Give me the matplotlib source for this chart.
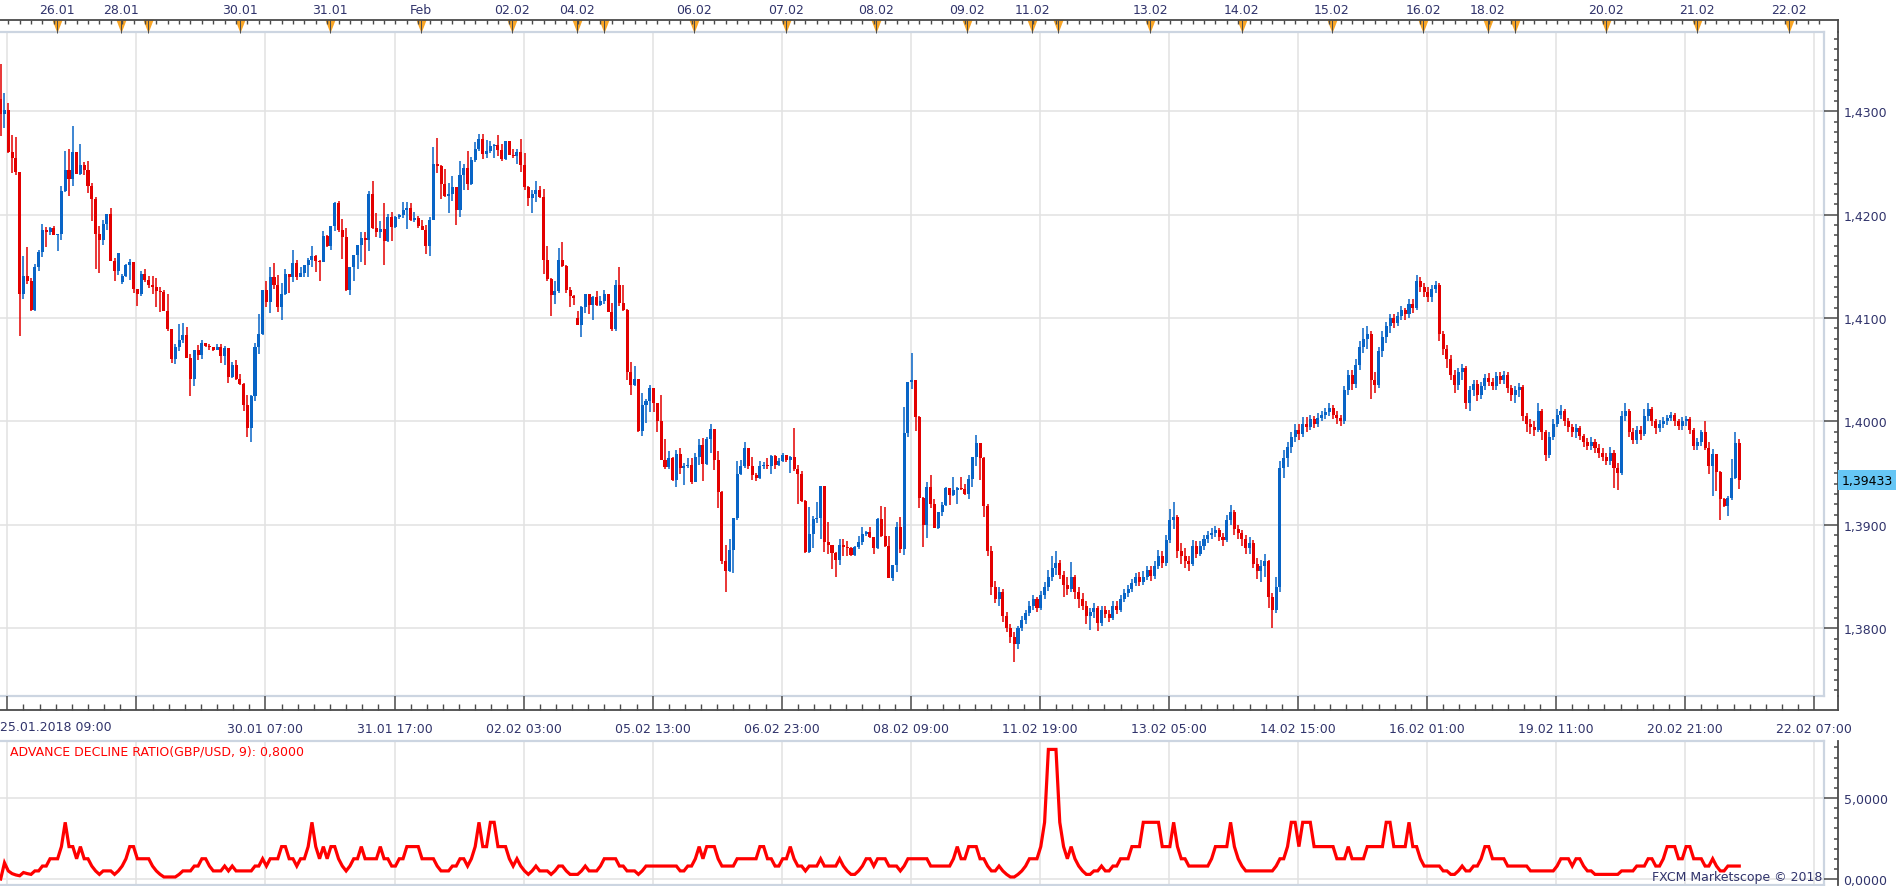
import numpy as np
import matplotlib
matplotlib.use("Agg")
import matplotlib.pyplot as plt
from matplotlib.ticker import FuncFormatter, FixedLocator, MultipleLocator
from matplotlib.transforms import blended_transform_factory

# GBP/USD hourly candles, prices stored as pips above BASE
BASE = 1.37
first_open = 612
gap_opens = {32: 435, 152: 400}
last_price = 1.39433

closes = [
    597, 601, 561, 555, 541, 423, 441, 436, 408, 449,
    464, 485, 483, 487, 480, 481, 523, 543, 535, 561,
    539, 548, 543, 528, 515, 481, 476, 491, 501, 455,
    446, 463, 441, 451, 454, 428, 423, 443, 437, 432,
    430, 426, 425, 407, 389, 360, 372, 379, 384, 361,
    341, 369, 364, 376, 373, 372, 369, 372, 363, 371,
    343, 355, 341, 336, 316, 294, 325, 372, 385, 427,
    416, 440, 432, 411, 423, 443, 440, 453, 440, 444,
    451, 456, 460, 455, 454, 479, 470, 489, 511, 485,
    478, 427, 449, 461, 471, 477, 476, 520, 487, 483,
    486, 475, 498, 488, 498, 500, 505, 506, 495, 497,
    489, 485, 470, 495, 549, 547, 530, 518, 520, 527,
    505, 538, 545, 530, 553, 564, 573, 559, 562, 566,
    567, 563, 554, 571, 558, 557, 561, 548, 527, 516,
    520, 524, 517, 456, 438, 422, 426, 456, 450, 427,
    421, 419, 393, 411, 423, 413, 420, 413, 417, 423,
    406, 389, 432, 415, 408, 348, 335, 341, 291, 316,
    320, 332, 318, 300, 263, 256, 265, 243, 269, 255,
    257, 258, 241, 266, 277, 259, 283, 293, 263, 232,
    165, 155, 176, 207, 249, 257, 274, 257, 248, 245,
    257, 258, 257, 267, 258, 262, 268, 263, 266, 254,
    249, 223, 174, 191, 206, 207, 238, 183, 181, 173,
    166, 181, 179, 178, 171, 179, 183, 191, 193, 188,
    178, 206, 189, 180, 149, 161, 198, 177, 289, 338,
    340, 304, 226, 200, 237, 220, 197, 212, 219, 236,
    229, 234, 236, 235, 230, 244, 266, 279, 265, 218,
    175, 140, 128, 135, 112, 100, 92, 85, 100, 108,
    115, 122, 128, 120, 132, 140, 150, 158, 163, 152,
    142, 138, 150, 135, 128, 122, 112, 116, 120, 105,
    118, 114, 110, 122, 118, 128, 134, 138, 144, 150,
    145, 150, 156, 151, 160, 170, 163, 185, 205, 208,
    175, 170, 165, 162, 180, 172, 180, 186, 190, 192,
    195, 188, 185, 205, 212, 196, 192, 186, 178, 182,
    162, 155, 160, 165, 130, 118, 140, 255, 265, 275,
    285, 292, 288, 298, 295, 302, 298, 303, 306, 309,
    313, 306, 303, 300, 330, 345, 336, 355, 372, 380,
    385, 340, 335, 368, 382, 392, 400, 395, 402, 408,
    404, 414, 410, 436, 430, 425, 420, 428, 432, 385,
    370, 360, 345, 335, 348, 352, 318, 330, 336, 326,
    334, 342, 338, 334, 344, 340, 345, 332, 326, 330,
    333, 305, 298, 295, 292, 310, 290, 268, 285, 298,
    306, 310, 300, 295, 290, 294, 286, 280, 276, 280,
    274, 270, 266, 262, 270, 255, 250, 305, 310, 290,
    282, 292, 288, 305, 312, 300, 294, 298, 300, 303,
    306, 300, 296, 300, 302, 292, 276, 280, 290, 274,
    257, 269, 251, 225, 218, 226, 245, 279, 243,
]
highs = [
    646, 618, 608, 577, 575, 541, 460, 469, 439, 452,
    466, 491, 488, 488, 489, 481, 528, 562, 564, 586,
    561, 568, 551, 552, 531, 517, 489, 495, 501, 506,
    458, 463, 443, 452, 457, 454, 428, 446, 447, 441,
    441, 439, 430, 427, 423, 389, 375, 394, 395, 391,
    365, 369, 374, 379, 376, 375, 372, 375, 375, 373,
    371, 358, 359, 346, 337, 326, 326, 376, 404, 427,
    436, 449, 453, 442, 434, 447, 443, 466, 456, 449,
    451, 458, 470, 461, 456, 484, 480, 489, 512, 513,
    496, 487, 449, 461, 471, 483, 483, 523, 533, 502,
    494, 511, 501, 503, 499, 501, 512, 512, 511, 503,
    499, 495, 490, 498, 565, 574, 548, 544, 531, 537,
    527, 552, 549, 562, 556, 570, 578, 578, 572, 571,
    568, 577, 568, 571, 571, 564, 564, 573, 560, 528,
    524, 533, 528, 525, 470, 439, 436, 468, 474, 451,
    430, 422, 407, 412, 423, 423, 421, 426, 421, 427,
    423, 415, 437, 449, 432, 409, 358, 354, 341, 328,
    322, 335, 332, 318, 326, 283, 271, 266, 272, 274,
    260, 265, 265, 270, 283, 284, 285, 298, 293, 271,
    233, 181, 186, 207, 262, 263, 280, 274, 266, 250,
    262, 261, 265, 268, 268, 265, 270, 268, 267, 294,
    258, 252, 224, 217, 209, 222, 238, 238, 203, 181,
    174, 186, 186, 184, 179, 180, 189, 198, 194, 198,
    188, 207, 218, 217, 189, 161, 203, 208, 314, 338,
    366, 340, 305, 227, 241, 248, 225, 212, 222, 237,
    236, 246, 237, 246, 240, 248, 266, 287, 279, 266,
    220, 180, 146, 140, 138, 116, 104, 96, 102, 112,
    118, 126, 132, 130, 136, 145, 156, 170, 175, 166,
    155, 150, 164, 152, 140, 134, 126, 120, 124, 122,
    122, 122, 118, 126, 126, 132, 138, 142, 148, 153,
    154, 155, 160, 160, 165, 176, 175, 190, 215, 222,
    210, 182, 178, 170, 185, 184, 184, 190, 194, 197,
    199, 197, 192, 210, 219, 214, 200, 195, 190, 188,
    185, 168, 166, 172, 166, 134, 150, 262, 272, 280,
    290, 298, 298, 304, 304, 306, 305, 308, 310, 313,
    318, 316, 310, 306, 334, 350, 350, 360, 378, 390,
    392, 388, 348, 372, 388, 396, 404, 404, 406, 412,
    410, 418, 418, 442, 440, 434, 430, 432, 436, 434,
    388, 374, 364, 350, 352, 356, 354, 334, 340, 340,
    338, 346, 347, 342, 348, 348, 349, 348, 335, 334,
    337, 335, 308, 302, 300, 318, 312, 292, 290, 302,
    312, 316, 312, 303, 298, 298, 296, 288, 284, 285,
    283, 278, 274, 270, 275, 272, 260, 310, 318, 312,
    294, 296, 296, 312, 318, 314, 302, 301, 304, 306,
    309, 308, 302, 304, 305, 304, 294, 284, 292, 300,
    280, 273, 269, 252, 226, 228, 264, 290, 283,
]
lows = [
    576, 584, 560, 540, 538, 383, 418, 433, 407, 407,
    446, 459, 469, 480, 480, 465, 476, 522, 518, 528,
    539, 538, 538, 521, 494, 447, 444, 471, 485, 455,
    436, 442, 433, 440, 437, 424, 412, 421, 435, 429,
    423, 411, 406, 407, 388, 357, 356, 368, 376, 361,
    325, 334, 359, 360, 372, 369, 368, 369, 357, 355,
    337, 342, 340, 335, 310, 285, 280, 320, 365, 384,
    411, 405, 428, 406, 398, 422, 424, 435, 437, 440,
    440, 440, 449, 445, 436, 454, 469, 466, 484, 483,
    457, 426, 422, 436, 447, 454, 451, 465, 486, 478,
    477, 451, 474, 475, 487, 496, 497, 486, 494, 493,
    487, 485, 462, 460, 495, 540, 515, 517, 502, 513,
    490, 498, 524, 524, 529, 551, 562, 554, 555, 560,
    555, 557, 552, 553, 558, 555, 549, 541, 524, 508,
    502, 512, 516, 443, 436, 402, 414, 424, 449, 424,
    411, 413, 393, 382, 405, 404, 398, 412, 412, 414,
    406, 388, 388, 412, 407, 340, 326, 334, 290, 286,
    299, 309, 309, 290, 263, 254, 254, 242, 237, 249,
    239, 255, 240, 241, 258, 242, 258, 270, 253, 216,
    162, 135, 154, 153, 205, 248, 255, 254, 243, 242,
    244, 254, 254, 249, 254, 257, 261, 261, 250, 252,
    220, 222, 173, 173, 178, 202, 186, 174, 172, 157,
    150, 161, 170, 170, 170, 170, 177, 181, 189, 187,
    172, 177, 188, 179, 149, 146, 154, 173, 171, 285,
    331, 291, 216, 179, 187, 216, 197, 196, 209, 218,
    219, 228, 220, 234, 229, 225, 237, 257, 243, 208,
    170, 132, 124, 122, 106, 96, 86, 67, 80, 97,
    104, 112, 118, 116, 118, 128, 136, 146, 152, 148,
    130, 132, 135, 128, 120, 118, 104, 98, 110, 97,
    102, 110, 106, 108, 114, 116, 125, 130, 135, 141,
    141, 142, 147, 146, 148, 157, 158, 160, 182, 196,
    168, 162, 158, 155, 160, 168, 170, 176, 182, 186,
    188, 184, 180, 183, 200, 190, 186, 180, 172, 172,
    158, 148, 145, 150, 120, 100, 115, 135, 245, 256,
    270, 280, 282, 285, 290, 292, 294, 295, 300, 302,
    305, 302, 298, 296, 298, 326, 330, 332, 350, 366,
    370, 322, 328, 332, 362, 376, 386, 390, 392, 398,
    398, 400, 405, 408, 425, 420, 416, 416, 424, 378,
    364, 352, 340, 328, 330, 340, 312, 310, 325, 320,
    322, 330, 334, 330, 330, 336, 336, 328, 320, 318,
    324, 300, 290, 288, 286, 290, 282, 262, 265, 282,
    295, 302, 296, 290, 285, 284, 282, 275, 272, 272,
    270, 265, 262, 258, 258, 236, 234, 248, 300, 285,
    278, 278, 282, 286, 300, 296, 288, 290, 294, 297,
    300, 296, 292, 292, 296, 288, 272, 272, 276, 272,
    249, 228, 233, 205, 217, 209, 224, 244, 235,
]

price_ticks = [1.38, 1.39, 1.40, 1.41, 1.42, 1.43]
time_labels = ["25.01.2018 09:00", "", "30.01 07:00", "31.01 17:00", "02.02 03:00",
               "05.02 13:00", "06.02 23:00", "08.02 09:00", "11.02 19:00",
               "13.02 05:00", "14.02 15:00", "16.02 01:00", "19.02 11:00",
               "20.02 21:00", "22.02 07:00"]
day_pos = [14.8, 31.7, 38.8, 63.0, 86.8, 110.7, 134.7, 151.8, 158.9, 182.6,
           206.8, 230.7, 254.6, 271.7, 278.5, 302.9, 326.9, 350.7, 374.8,
           391.7, 398.9, 422.9, 446.9, 471.0]
day_labels = ["26.01", "28.01", "", "30.01", "31.01", "Feb", "02.02", "04.02", "",
              "06.02", "07.02", "08.02", "09.02", "11.02", "", "13.02", "14.02",
              "15.02", "16.02", "18.02", "", "20.02", "21.02", "22.02"]

BLUE = "#0864c6"
RED = "#e30000"
NAVY = "#30336b"
GRID = "#e2e2e2"
FRAME = "#ccd5e1"
DARK = "#4a4a4a"

# ---- candles ----
n = len(closes)
x = np.arange(n)
op = [first_open] + closes[:-1]
for k, v in gap_opens.items():
    op[k] = v
op = np.array(op, float)
cl = np.array(closes, float)
hi = np.maximum(np.array(highs, float), np.maximum(op, cl))
lo = np.minimum(np.array(lows, float), np.minimum(op, cl))
up = cl > op
down = cl < op

# advance/decline ratio over 9 bars
adr = np.full(n, np.nan)
for t in range(n):
    a = up[max(0, t - 8):t + 1].sum()
    d = down[max(0, t - 8):t + 1].sum()
    if d:
        adr[t] = a / d

W, H = 1903, 887
PX = 3.796            # pixels per candle
XMIN = -0.18


def x_at(px):
    return XMIN + px / PX


fig = plt.figure(figsize=(W / 100, H / 100), dpi=100)
plt.rcParams["font.family"] = "DejaVu Sans"


def box(x0, y0, x1, y1):
    return fig.add_axes([x0 / W, 1 - y1 / H, (x1 - x0) / W, (y1 - y0) / H])


grid_x = [1.75 + 34 * k for k in range(len(time_labels))]
price = lambda p: BASE + p / 1e4

# main price panel
ax = box(0, 33, 1824, 697)
ax.set_xlim(XMIN, x_at(1824))
ax.set_ylim(1.37345, 1.43767)
ax.set_xticks(grid_x)
ax.set_yticks(price_ticks)
ax.grid(color=GRID, lw=1.1)
ax.set_axisbelow(True)
ax.tick_params(length=0, labelleft=False, labelbottom=False)
for s in ax.spines.values():
    s.set_color(FRAME)
    s.set_linewidth(1.6)
ax.spines["left"].set_visible(False)

colors = np.where(up, BLUE, RED)
ax.vlines(x, price(lo), price(hi), colors=colors, lw=1.1, zorder=2)
body_lo = price(np.minimum(op, cl))
body_h = np.maximum(np.abs(cl - op), 0.8) / 1e4
ax.bar(x, body_h, bottom=body_lo, width=0.8, color=colors, lw=0, zorder=3)

fmt4 = FuncFormatter(lambda v, _: f"{v:.4f}".replace(".", ","))

# right price scale
rax = box(1824, 33, 1838, 697)
rax.set_ylim(ax.get_ylim())
rax.set_xlim(0, 1)
rax.patch.set_alpha(0)
for s in ["left", "top", "bottom"]:
    rax.spines[s].set_visible(False)
rax.spines["right"].set_color(DARK)
rax.spines["right"].set_linewidth(1.3)
rax.set_xticks([])
rax.yaxis.tick_right()
rax.set_yticks(price_ticks)
rax.yaxis.set_minor_locator(MultipleLocator(0.001))
rax.yaxis.set_major_formatter(fmt4)
rax.tick_params(axis="y", which="major", direction="in", length=10, width=1.1,
                color=DARK, pad=4, labelsize=9, labelcolor=NAVY)
rax.tick_params(axis="y", which="minor", direction="in", length=3, width=1.1, color=DARK)
tr = blended_transform_factory(rax.transAxes, rax.transData)
rax.text(1.25, last_price, f"{last_price:.5f}".replace(".", ","), transform=tr,
         ha="left", va="center", fontsize=9, color="black", clip_on=False,
         bbox=dict(boxstyle="square,pad=0.25", fc="#66c6f5", ec="none"))

# top date scale with event markers
tax = box(0, 21, 1838, 33)
tax.set_xlim(XMIN, x_at(1838))
tax.set_ylim(0, 1)
tax.patch.set_alpha(0)
for s in ["left", "bottom"]:
    tax.spines[s].set_visible(False)
for s in ["top", "right"]:
    tax.spines[s].set_color(DARK)
    tax.spines[s].set_linewidth(1.3)
tax.set_yticks([])
tax.xaxis.tick_top()
tax.set_xticks(day_pos, labels=day_labels)
tax.xaxis.set_minor_locator(FixedLocator(np.arange(2, 480, 3)))
tax.tick_params(axis="x", which="major", direction="in", length=9, width=0.7,
                color=DARK, pad=3, labelsize=9, labelcolor=NAVY)
tax.tick_params(axis="x", which="minor", direction="in", length=3, width=1.0, color=DARK)
tax.scatter(day_pos, [0.5] * len(day_pos), marker=[(-1, 1.3), (1, 1.3), (0, -1.3)],
            s=95, color="#f8a526", lw=0, zorder=1, clip_on=False)

# bottom time scale
bax = box(0, 697, 1838, 711)
bax.set_xlim(XMIN, x_at(1838))
bax.set_ylim(0, 1)
bax.patch.set_alpha(0)
for s in ["left", "top"]:
    bax.spines[s].set_visible(False)
for s in ["bottom", "right"]:
    bax.spines[s].set_color(DARK)
    bax.spines[s].set_linewidth(1.3)
bax.set_yticks([])
bax.set_xticks(grid_x, labels=[""] * 2 + time_labels[2:])
bax.xaxis.set_minor_locator(FixedLocator(np.arange(1.75, 480, 4.25)))
bax.tick_params(axis="x", which="major", direction="in", length=10, width=1.1,
                color=DARK, pad=9, labelsize=9, labelcolor=NAVY)
bax.tick_params(axis="x", which="minor", direction="in", length=4.3, width=1.0, color=DARK)
fig.text(0, 1 - 728 / H, time_labels[0], ha="left", va="center", fontsize=9, color=NAVY)

# indicator panel
iax = box(0, 742, 1824, 886)
iax.set_xlim(XMIN, x_at(1824))
iax.set_ylim(-0.37, 8.52)
iax.set_xticks(grid_x)
iax.set_yticks([0, 5])
iax.grid(color=GRID, lw=1.1)
iax.set_axisbelow(True)
iax.tick_params(length=0, labelleft=False, labelbottom=False)
for s in iax.spines.values():
    s.set_color(FRAME)
    s.set_linewidth(1.6)
iax.spines["left"].set_visible(False)
iax.plot(x, adr, color="#ff0000", lw=2.3, solid_joinstyle="miter")
iax.text(10 / 1824, 0.93, "ADVANCE DECLINE RATIO(GBP/USD, 9): "
         + f"{adr[-1]:.4f}".replace(".", ","), transform=iax.transAxes,
         ha="left", va="center", fontsize=9, color="#ff0000")

irax = box(1824, 742, 1838, 886)
irax.set_ylim(iax.get_ylim())
irax.set_xlim(0, 1)
irax.patch.set_alpha(0)
for s in ["left", "top", "bottom"]:
    irax.spines[s].set_visible(False)
irax.spines["right"].set_color(DARK)
irax.spines["right"].set_linewidth(1.3)
irax.set_xticks([])
irax.yaxis.tick_right()
irax.set_yticks([0, 5])
irax.yaxis.set_minor_locator(MultipleLocator(0.625))
irax.yaxis.set_major_formatter(fmt4)
irax.tick_params(axis="y", which="major", direction="in", length=10, width=1.1,
                 color=DARK, pad=4, labelsize=9, labelcolor=NAVY)
irax.tick_params(axis="y", which="minor", direction="in", length=3, width=1.1, color=DARK)

fig.text(1822 / W, 1 - 878 / H, "FXCM Marketscope \u00a9 2018", ha="right", va="center",
         fontsize=9, color=NAVY)

fig.savefig("out.png", dpi=100, facecolor="white")
